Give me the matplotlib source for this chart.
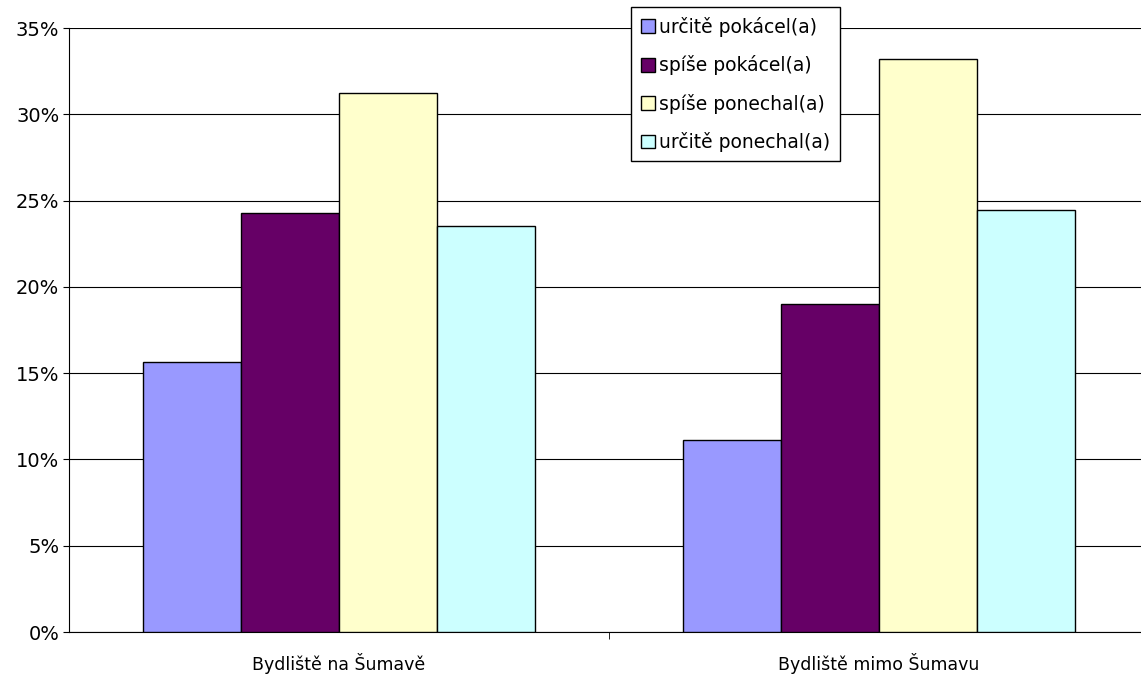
import numpy as np
import matplotlib.pyplot as plt
from matplotlib.ticker import FuncFormatter, FixedLocator

categories = ['Bydliště na Šumavě', 'Bydliště mimo Šumavu']
series_names = ['určitě pokácel(a)', 'spíše pokácel(a)', 'spíše ponechal(a)', 'určitě ponechal(a)']
urcite_pokacel = [15.65, 11.15]
spise_pokacel = [24.3, 19.0]
spise_ponechal = [31.25, 33.2]
urcite_ponechal = [23.5, 24.45]
colors = ['#9999FF', '#660066', '#FFFFCC', '#CCFFFF']

series = [urcite_pokacel, spise_pokacel, spise_ponechal, urcite_ponechal]

fig = plt.figure(figsize=(11.41, 6.75), dpi=100, facecolor='w')
# axes run slightly past the right edge of the figure, like the original
ax = fig.add_axes([0.0605, 0.0637, 0.9466, 0.8948])

x = np.arange(len(categories))
width = 0.1815
for i, (vals, name, col) in enumerate(zip(series, series_names, colors)):
    ax.bar(x + (i - 1.5) * width, vals, width, color=col, edgecolor='black',
           linewidth=1.0, label=name, zorder=3)

ax.set_xlim(-0.5, 1.5)
ax.set_ylim(0, 35)
ax.set_yticks(np.arange(0, 36, 5))
ax.yaxis.set_major_formatter(FuncFormatter(lambda v, p: '%d%%' % v))
ax.yaxis.grid(True, color='black', linewidth=0.8, zorder=0)
ax.set_xticks(x)
ax.set_xticklabels(categories, fontsize=12.5)
ax.tick_params(axis='x', which='major', length=0, pad=15)
ax.xaxis.set_minor_locator(FixedLocator([0.5]))
ax.tick_params(axis='x', which='minor', length=5, color='black', direction='out')
ax.tick_params(axis='y', length=4, labelsize=14, color='black', pad=3)

for side in ['top', 'right']:
    ax.spines[side].set_visible(False)
ax.spines['left'].set_color('black')
ax.spines['bottom'].set_color('black')

leg = ax.legend(loc='upper left', bbox_to_anchor=(0.5205, 1.034), fontsize=13.5,
                frameon=True, fancybox=False, framealpha=1, edgecolor='black',
                handlelength=0.75, handleheight=0.75, handletextpad=0.25,
                labelspacing=0.98, borderpad=0.5, borderaxespad=0)
leg.get_frame().set_linewidth(1.0)
leg.set_zorder(5)

fig.savefig('out.png', dpi=100)
